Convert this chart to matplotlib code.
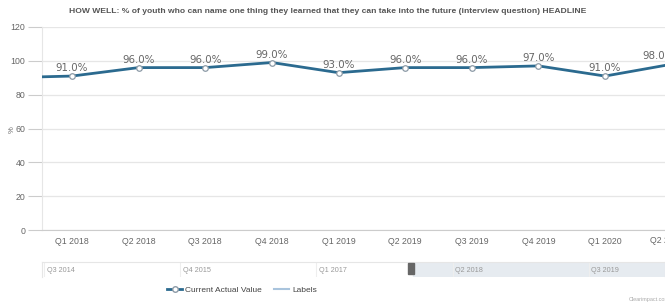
import matplotlib
matplotlib.use('Agg')
import matplotlib.pyplot as plt
from matplotlib.lines import Line2D
from matplotlib.patches import Rectangle

# Data
quarters = ['Q4 2017', 'Q1 2018', 'Q2 2018', 'Q3 2018', 'Q4 2018', 'Q1 2019',
            'Q2 2019', 'Q3 2019', 'Q4 2019', 'Q1 2020', 'Q2 2020']
values = [90, 91, 96, 96, 99, 93, 96, 96, 97, 91, 98]
nav_labels = ['Q3 2014', 'Q4 2015', 'Q1 2017', 'Q2 2018', 'Q3 2019']
yticks = [0, 20, 40, 60, 80, 100, 120]

title = ('HOW WELL: % of youth who can name one thing they learned that they '
         'can take into the future (interview question) HEADLINE')

narrow = ['Liberation Sans', 'DejaVu Sans']
line_color = '#2b6a8f'
grid_color = '#e6e6e6'
text_color = '#666666'

fig = plt.figure(figsize=(6.65, 3.04), dpi=100)
fig.text(0.493, 0.962, title, ha='center', va='center', fontsize=6.1,
         fontweight='bold', color='#555555', family=narrow)

ax = fig.add_axes([42 / 665, 1 - 230 / 304, 623 / 665, 203 / 304])
x = list(range(-1, len(quarters) - 1))
ax.plot(x, values, color=line_color, lw=2, zorder=3)
ax.plot(x, values, ls='none', marker='o', ms=4, mfc='white', mec='#8c9aa6',
        mew=0.9, zorder=4)

for xi, v in zip(x, values):
    if xi < 0:
        continue
    tx = xi if xi < 9 else 8.8
    ax.annotate(f'{v:.1f}%', (tx, v), xytext=(0, 2), textcoords='offset points',
                ha='center', va='bottom', fontsize=7.4, color=text_color,
                annotation_clip=False, zorder=5)

ax.set_xlim(-0.45, 8.9)
ax.set_ylim(0, 120)
ax.set_yticks(yticks)
ax.set_xticks(range(9))
ax.set_xticklabels(quarters[1:10], family=narrow, fontsize=6.3, color=text_color)
ax.text(8.92, -0.03, quarters[10], transform=ax.get_xaxis_transform(), ha='center',
        va='top', family=narrow, fontsize=6.3, color=text_color, clip_on=False)
ax.tick_params(axis='x', length=0, pad=5)
ax.tick_params(axis='y', length=10, color='#cccccc', width=0.8, labelsize=6.3,
               labelcolor=text_color, pad=2)
for lab in ax.get_yticklabels():
    lab.set_family(narrow)
ax.grid(axis='y', color=grid_color, lw=0.9)
ax.set_axisbelow(True)
for s in ['top', 'right']:
    ax.spines[s].set_visible(False)
ax.spines['left'].set_color(grid_color)
ax.spines['bottom'].set_color('#cccccc')
fig.text(12 / 665, 1 - 130 / 304, '%', rotation=90, fontsize=5.5,
         color=text_color, ha='center', va='center', family=narrow)

# Navigator
nav = fig.add_axes([42 / 665, 1 - 277 / 304, 623 / 665, 15 / 304])
nav.set_xlim(-0.07, 22.8)
nav.set_ylim(0, 1)
nav.set_xticks([])
nav.set_yticks([])
for s in nav.spines.values():
    s.set_color('#e6e6e6')
    s.set_linewidth(0.8)
nav.spines['bottom'].set_visible(False)
nav.add_patch(Rectangle((13.55, 0), 22.8 - 13.55, 1, color='#e6ebf0', zorder=1))
nav.add_patch(Rectangle((13.38, 0.2), 0.2, 0.75, color='#666666', zorder=3))
for i, lab in enumerate(nav_labels):
    pos = i * 5
    nav.axvline(pos, color='#eeeeee', lw=0.8, zorder=2)
    nav.text(pos + 0.1, 0.45, lab, ha='left', va='center', fontsize=5.2,
             color='#999999', family=narrow, zorder=4)

# Legend
handles = [Line2D([], [], color=line_color, lw=2, marker='o', ms=4, mfc='white',
                  mec='#8c9aa6'),
           Line2D([], [], color='#a9c4dd', lw=1.5)]
fig.legend(handles, ['Current Actual Value', 'Labels'], loc='center',
           bbox_to_anchor=(0.364, 0.046), ncol=2, frameon=False,
           prop={'family': narrow, 'size': 6.0}, labelcolor='#444444',
           handlelength=1.8, handletextpad=0.4, columnspacing=1.4)

fig.text(0.945, 0.005, 'Clearimpact.com', fontsize=4, color='#aaaaaa',
         ha='left', va='bottom', family=narrow)

fig.savefig('out.png', dpi=100)
